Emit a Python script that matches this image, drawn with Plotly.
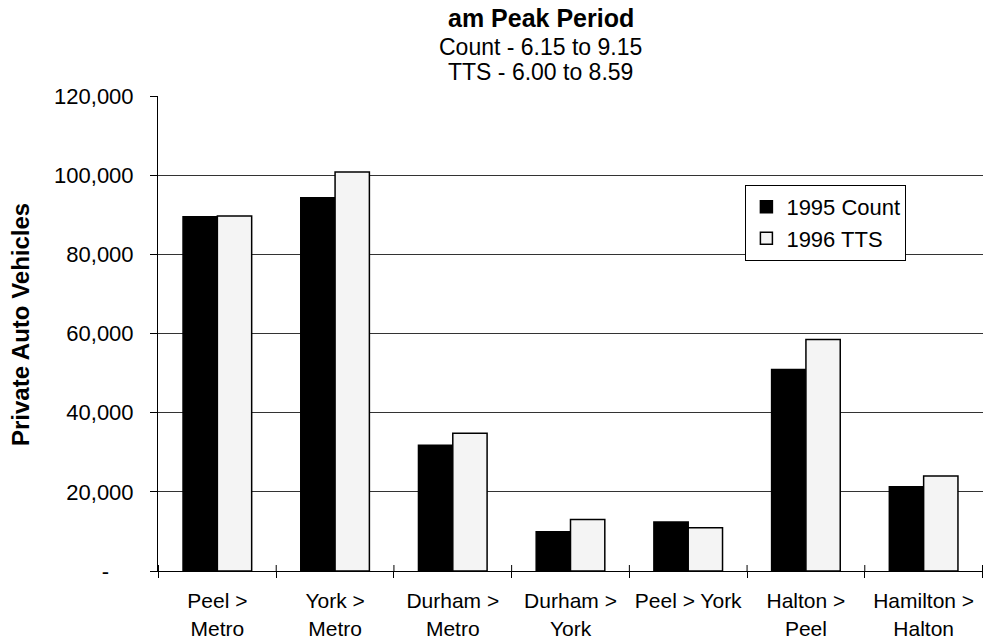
import plotly.graph_objects as go

# Screenline crossings (origin > destination)
categories = [
    "Peel ><br>Metro",
    "York ><br>Metro",
    "Durham ><br>Metro",
    "Durham ><br>York",
    "Peel > York",
    "Halton ><br>Peel",
    "Hamilton ><br>Halton",
]
count_1995 = [89500, 94300, 31800, 9900, 12400, 50900, 21300]
tts_1996 = [89700, 100800, 34800, 13000, 10900, 58500, 24000]

y_tickvals = [0, 20000, 40000, 60000, 80000, 100000, 120000]
y_ticktext = ["-" + "\u00a0" * 4, "20,000", "40,000", "60,000", "80,000", "100,000", "120,000"]

FONT = "Liberation Sans, Arial, sans-serif"

fig = go.Figure()
fig.add_trace(go.Bar(
    name="1995 Count", x=categories, y=count_1995,
    marker=dict(color="#000000", line=dict(color="#000000", width=1.5)),
))
fig.add_trace(go.Bar(
    name="1996 TTS", x=categories, y=tts_1996,
    marker=dict(color="#f4f4f4", line=dict(color="#000000", width=1.5)),
))

# inner halves of the category boundary ticks, so they cross the axis line
boundary_ticks = [
    dict(type="line", xref="x", yref="y", x0=i - 0.5, x1=i - 0.5,
         ysizemode="pixel", yanchor=0, y0=0, y1=6,
         line=dict(color="black", width=1))
    for i in range(len(categories) + 1)
]

fig.update_layout(
    width=985, height=643,
    margin=dict(l=158, r=2, t=96, b=72),
    paper_bgcolor="white", plot_bgcolor="white",
    font=dict(family=FONT, size=21, color="black"),
    barmode="group", bargap=0.417, bargroupgap=0,
    showlegend=True,
    legend=dict(
        x=0.712, y=0.813, xanchor="left", yanchor="top",
        bgcolor="white", bordercolor="black", borderwidth=1,
        font=dict(family=FONT, size=22, color="black"),
        itemwidth=30, tracegroupgap=0,
    ),
    shapes=boundary_ticks,
    annotations=[
        dict(text="<b>am Peak Period</b>", x=0.4642, y=1.164, xref="paper", yref="paper",
             showarrow=False, xanchor="center", yanchor="middle",
             font=dict(family=FONT, size=25, color="black")),
        dict(text="Count - 6.15 to 9.15", x=0.4642, y=1.103, xref="paper", yref="paper",
             showarrow=False, xanchor="center", yanchor="middle",
             font=dict(family=FONT, size=23, color="black")),
        dict(text="TTS - 6.00 to 8.59", x=0.4642, y=1.0505, xref="paper", yref="paper",
             showarrow=False, xanchor="center", yanchor="middle",
             font=dict(family=FONT, size=23, color="black")),
        dict(text="<b>Private Auto Vehicles</b>", x=-0.166, y=0.518, xref="paper", yref="paper",
             showarrow=False, xanchor="center", yanchor="middle", textangle=-90,
             font=dict(family=FONT, size=24, color="black")),
    ],
)

fig.update_xaxes(
    type="category", tickson="boundaries",
    ticks="outside", ticklen=6, tickcolor="black", tickwidth=1,
    ticklabelstandoff=11,
    showline=True, linecolor="black", linewidth=1,
    showgrid=False, zeroline=False,
    tickfont=dict(family=FONT, size=21, color="black"),
)
fig.update_yaxes(
    range=[0, 120000], tickvals=y_tickvals, ticktext=y_ticktext,
    ticks="outside", ticklen=7, tickcolor="black", tickwidth=1,
    ticklabelstandoff=12,
    showline=True, linecolor="black", linewidth=1,
    showgrid=True, gridcolor="#333333", gridwidth=1,
    zeroline=False,
    tickfont=dict(family=FONT, size=22, color="black"),
)

fig.write_html("out.html")
